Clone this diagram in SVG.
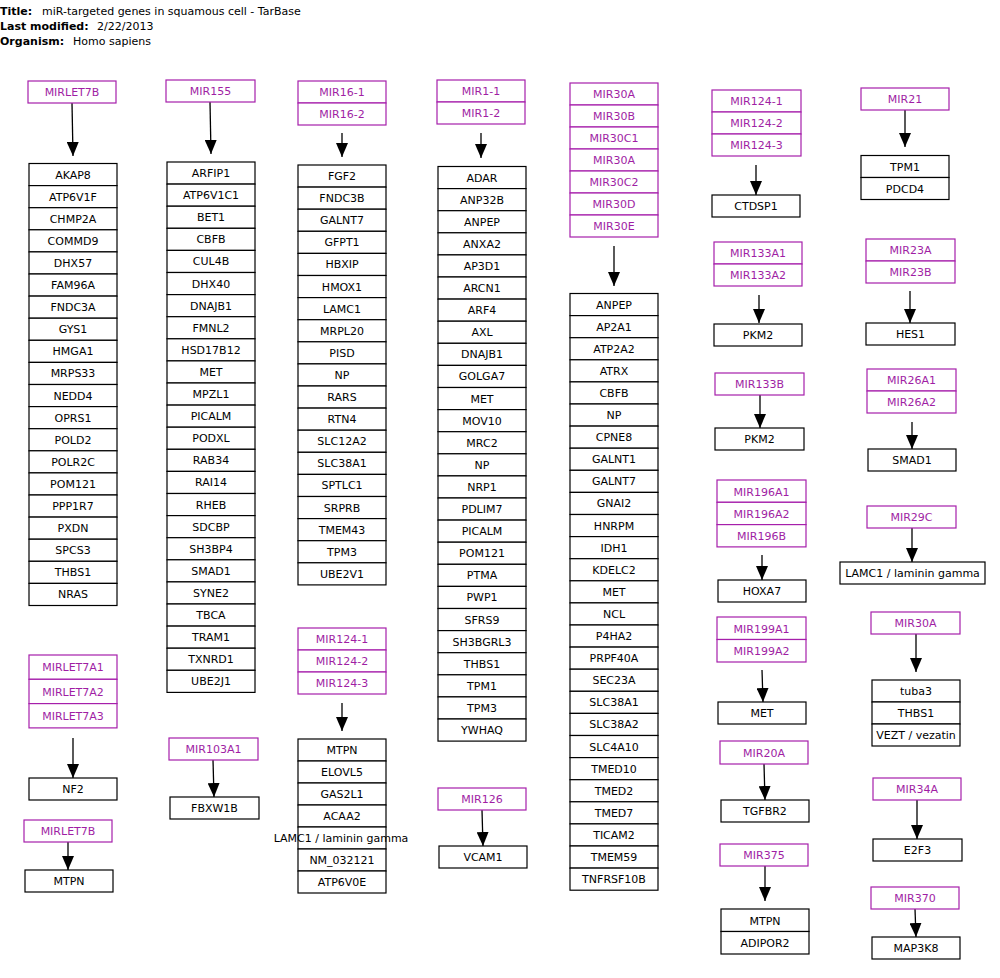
<svg xmlns="http://www.w3.org/2000/svg" width="1000" height="978" viewBox="0 0 1000 978">
<style>
text{font-family:"DejaVu Sans",sans-serif;font-size:11px;}
.g rect{fill:#fff;stroke:#000;stroke-width:1.2;}
.g text{fill:#000;text-anchor:middle;}
.m rect{fill:#fff;stroke:#a61fab;stroke-width:1.2;}
.m text{fill:#a01ea4;text-anchor:middle;}
.c line{stroke:#000;stroke-width:1.3;marker-end:url(#ah);}
.hd{font-weight:bold;}
</style>
<defs>
<marker id="ah" viewBox="0 0 14 12" refX="14" refY="6" markerWidth="14" markerHeight="12" markerUnits="userSpaceOnUse" orient="auto"><path d="M0,0 L14,6 L0,12 z" fill="#000"/></marker>
</defs>
<rect width="1000" height="978" fill="#fff"/>
<g id="header">
<text x="0" y="15" class="hd">Title:</text><text x="42" y="15">miR-targeted genes in squamous cell - TarBase</text>
<text x="0" y="30" class="hd">Last modified:</text><text x="97" y="30">2/22/2013</text>
<text x="0" y="45" class="hd">Organism:</text><text x="73" y="45">Homo sapiens</text>
</g>

<g id="connectors" class="c">
<line x1="72" y1="103" x2="73" y2="156"/>
<line x1="210" y1="102" x2="211" y2="154"/>
<line x1="342" y1="133" x2="342" y2="157"/>
<line x1="481" y1="133" x2="481" y2="158"/>
<line x1="614" y1="246" x2="614" y2="286"/>
<line x1="756" y1="165" x2="756" y2="195"/>
<line x1="905" y1="110" x2="905" y2="147"/>
<line x1="759" y1="295" x2="759" y2="323"/>
<line x1="910" y1="291" x2="910" y2="323"/>
<line x1="760" y1="395" x2="760" y2="428"/>
<line x1="912" y1="422" x2="912" y2="449"/>
<line x1="762" y1="555" x2="762" y2="580"/>
<line x1="912" y1="528" x2="912" y2="562"/>
<line x1="762" y1="670" x2="763" y2="702"/>
<line x1="916" y1="634" x2="916" y2="672"/>
<line x1="764" y1="764" x2="765" y2="800"/>
<line x1="917" y1="800" x2="917" y2="839"/>
<line x1="765" y1="866" x2="765" y2="901"/>
<line x1="915" y1="909" x2="916" y2="937"/>
<line x1="73" y1="738" x2="73" y2="778"/>
<line x1="68" y1="842" x2="68" y2="870"/>
<line x1="213" y1="760" x2="214" y2="797"/>
<line x1="342" y1="703" x2="342" y2="731"/>
<line x1="482" y1="810" x2="483" y2="846"/>
</g>

<!-- Column 1 -->
<g id="mirlet7b" class="m"><rect x="28" y="81" width="88" height="22"/><text x="72" y="96">MIRLET7B</text></g>
<g id="genes1" class="g">
<rect x="29" y="163.5" width="88" height="22.1"/><text x="73" y="178.5">AKAP8</text>
<rect x="29" y="185.6" width="88" height="22.1"/><text x="73" y="200.6">ATP6V1F</text>
<rect x="29" y="207.7" width="88" height="22.1"/><text x="73" y="222.7">CHMP2A</text>
<rect x="29" y="229.8" width="88" height="22.1"/><text x="73" y="244.8">COMMD9</text>
<rect x="29" y="251.9" width="88" height="22.1"/><text x="73" y="266.9">DHX57</text>
<rect x="29" y="274" width="88" height="22.1"/><text x="73" y="289">FAM96A</text>
<rect x="29" y="296.1" width="88" height="22.1"/><text x="73" y="311.1">FNDC3A</text>
<rect x="29" y="318.2" width="88" height="22.1"/><text x="73" y="333.2">GYS1</text>
<rect x="29" y="340.3" width="88" height="22.1"/><text x="73" y="355.3">HMGA1</text>
<rect x="29" y="362.4" width="88" height="22.1"/><text x="73" y="377.4">MRPS33</text>
<rect x="29" y="384.5" width="88" height="22.1"/><text x="73" y="399.5">NEDD4</text>
<rect x="29" y="406.6" width="88" height="22.1"/><text x="73" y="421.6">OPRS1</text>
<rect x="29" y="428.7" width="88" height="22.1"/><text x="73" y="443.7">POLD2</text>
<rect x="29" y="450.8" width="88" height="22.1"/><text x="73" y="465.8">POLR2C</text>
<rect x="29" y="472.9" width="88" height="22.1"/><text x="73" y="487.9">POM121</text>
<rect x="29" y="495" width="88" height="22.1"/><text x="73" y="510">PPP1R7</text>
<rect x="29" y="517.1" width="88" height="22.1"/><text x="73" y="532.1">PXDN</text>
<rect x="29" y="539.2" width="88" height="22.1"/><text x="73" y="554.2">SPCS3</text>
<rect x="29" y="561.3" width="88" height="22.1"/><text x="73" y="576.3">THBS1</text>
<rect x="29" y="583.4" width="88" height="22.1"/><text x="73" y="598.4">NRAS</text>
</g>
<g id="mirlet7a" class="m">
<rect x="29" y="655" width="88" height="24.3"/><text x="73" y="671">MIRLET7A1</text>
<rect x="29" y="679.3" width="88" height="24.3"/><text x="73" y="695.5">MIRLET7A2</text>
<rect x="29" y="703.6" width="88" height="24.3"/><text x="73" y="719.8">MIRLET7A3</text>
</g>
<g id="nf2" class="g"><rect x="29" y="778" width="88" height="22"/><text x="73" y="793">NF2</text></g>
<g id="mirlet7b2" class="m"><rect x="24" y="820" width="88" height="22"/><text x="68" y="835">MIRLET7B</text></g>
<g id="mtpn1" class="g"><rect x="25" y="870" width="88" height="22"/><text x="69" y="885">MTPN</text></g>

<!-- Column 2 -->
<g id="mir155" class="m"><rect x="166" y="80" width="89" height="22"/><text x="210.5" y="95">MIR155</text></g>
<g id="genes2" class="g">
<rect x="167" y="162" width="88" height="22.1"/><text x="211" y="177">ARFIP1</text>
<rect x="167" y="184.1" width="88" height="22.1"/><text x="211" y="199.1">ATP6V1C1</text>
<rect x="167" y="206.2" width="88" height="22.1"/><text x="211" y="221.2">BET1</text>
<rect x="167" y="228.3" width="88" height="22.1"/><text x="211" y="243.3">CBFB</text>
<rect x="167" y="250.4" width="88" height="22.1"/><text x="211" y="265.4">CUL4B</text>
<rect x="167" y="272.5" width="88" height="22.1"/><text x="211" y="287.5">DHX40</text>
<rect x="167" y="294.6" width="88" height="22.1"/><text x="211" y="309.6">DNAJB1</text>
<rect x="167" y="316.7" width="88" height="22.1"/><text x="211" y="331.7">FMNL2</text>
<rect x="167" y="338.8" width="88" height="22.1"/><text x="211" y="353.8">HSD17B12</text>
<rect x="167" y="360.9" width="88" height="22.1"/><text x="211" y="375.9">MET</text>
<rect x="167" y="383" width="88" height="22.1"/><text x="211" y="398">MPZL1</text>
<rect x="167" y="405.1" width="88" height="22.1"/><text x="211" y="420.1">PICALM</text>
<rect x="167" y="427.2" width="88" height="22.1"/><text x="211" y="442.2">PODXL</text>
<rect x="167" y="449.3" width="88" height="22.1"/><text x="211" y="464.3">RAB34</text>
<rect x="167" y="471.4" width="88" height="22.1"/><text x="211" y="486.4">RAI14</text>
<rect x="167" y="493.5" width="88" height="22.1"/><text x="211" y="508.5">RHEB</text>
<rect x="167" y="515.6" width="88" height="22.1"/><text x="211" y="530.6">SDCBP</text>
<rect x="167" y="537.7" width="88" height="22.1"/><text x="211" y="552.7">SH3BP4</text>
<rect x="167" y="559.8" width="88" height="22.1"/><text x="211" y="574.8">SMAD1</text>
<rect x="167" y="581.9" width="88" height="22.1"/><text x="211" y="596.9">SYNE2</text>
<rect x="167" y="604" width="88" height="22.1"/><text x="211" y="619">TBCA</text>
<rect x="167" y="626.1" width="88" height="22.1"/><text x="211" y="641.1">TRAM1</text>
<rect x="167" y="648.2" width="88" height="22.1"/><text x="211" y="663.2">TXNRD1</text>
<rect x="167" y="670.3" width="88" height="22.1"/><text x="211" y="685.3">UBE2J1</text>
</g>
<g id="mir103a1" class="m"><rect x="169" y="738" width="89" height="22"/><text x="213.5" y="753">MIR103A1</text></g>
<g id="fbxw1b" class="g"><rect x="170" y="797" width="89" height="22"/><text x="214.5" y="812">FBXW1B</text></g>

<!-- Column 3 -->
<g id="mir16" class="m">
<rect x="298" y="81" width="88" height="22"/><text x="342" y="96">MIR16-1</text>
<rect x="298" y="103" width="88" height="22"/><text x="342" y="118">MIR16-2</text>
</g>
<g id="genes3" class="g">
<rect x="298" y="165" width="88" height="22.1"/><text x="342" y="180">FGF2</text>
<rect x="298" y="187.1" width="88" height="22.1"/><text x="342" y="202.1">FNDC3B</text>
<rect x="298" y="209.2" width="88" height="22.1"/><text x="342" y="224.2">GALNT7</text>
<rect x="298" y="231.3" width="88" height="22.1"/><text x="342" y="246.3">GFPT1</text>
<rect x="298" y="253.4" width="88" height="22.1"/><text x="342" y="268.4">HBXIP</text>
<rect x="298" y="275.5" width="88" height="22.1"/><text x="342" y="290.5">HMOX1</text>
<rect x="298" y="297.6" width="88" height="22.1"/><text x="342" y="312.6">LAMC1</text>
<rect x="298" y="319.7" width="88" height="22.1"/><text x="342" y="334.7">MRPL20</text>
<rect x="298" y="341.8" width="88" height="22.1"/><text x="342" y="356.8">PISD</text>
<rect x="298" y="363.9" width="88" height="22.1"/><text x="342" y="378.9">NP</text>
<rect x="298" y="386" width="88" height="22.1"/><text x="342" y="401">RARS</text>
<rect x="298" y="408.1" width="88" height="22.1"/><text x="342" y="423.1">RTN4</text>
<rect x="298" y="430.2" width="88" height="22.1"/><text x="342" y="445.2">SLC12A2</text>
<rect x="298" y="452.3" width="88" height="22.1"/><text x="342" y="467.3">SLC38A1</text>
<rect x="298" y="474.4" width="88" height="22.1"/><text x="342" y="489.4">SPTLC1</text>
<rect x="298" y="496.5" width="88" height="22.1"/><text x="342" y="511.5">SRPRB</text>
<rect x="298" y="518.6" width="88" height="22.1"/><text x="342" y="533.6">TMEM43</text>
<rect x="298" y="540.7" width="88" height="22.1"/><text x="342" y="555.7">TPM3</text>
<rect x="298" y="562.8" width="88" height="22.1"/><text x="342" y="577.8">UBE2V1</text>
</g>
<g id="mir124a" class="m">
<rect x="298" y="628" width="88" height="22"/><text x="342" y="643">MIR124-1</text>
<rect x="298" y="650" width="88" height="22"/><text x="342" y="665">MIR124-2</text>
<rect x="298" y="672" width="88" height="22"/><text x="342" y="687">MIR124-3</text>
</g>
<g id="genes3b" class="g">
<rect x="298" y="739" width="88" height="22"/><text x="342" y="754">MTPN</text>
<rect x="298" y="761" width="88" height="22"/><text x="342" y="776">ELOVL5</text>
<rect x="298" y="783" width="88" height="22"/><text x="342" y="798">GAS2L1</text>
<rect x="298" y="805" width="88" height="22"/><text x="342" y="820">ACAA2</text>
<rect x="298" y="827" width="88" height="22"/><text x="341" y="842">LAMC1 / laminin gamma</text>
<rect x="298" y="849" width="88" height="22"/><text x="342" y="864">NM_032121</text>
<rect x="298" y="871" width="88" height="22"/><text x="342" y="886">ATP6V0E</text>
</g>

<!-- Column 4 -->
<g id="mir1" class="m">
<rect x="437" y="80" width="88" height="22"/><text x="481" y="95">MIR1-1</text>
<rect x="437" y="102" width="88" height="22"/><text x="481" y="117">MIR1-2</text>
</g>
<g id="genes4" class="g">
<rect x="438" y="166.5" width="88" height="22.1"/><text x="482" y="181.5">ADAR</text>
<rect x="438" y="188.6" width="88" height="22.1"/><text x="482" y="203.6">ANP32B</text>
<rect x="438" y="210.7" width="88" height="22.1"/><text x="482" y="225.7">ANPEP</text>
<rect x="438" y="232.8" width="88" height="22.1"/><text x="482" y="247.8">ANXA2</text>
<rect x="438" y="254.9" width="88" height="22.1"/><text x="482" y="269.9">AP3D1</text>
<rect x="438" y="277" width="88" height="22.1"/><text x="482" y="292">ARCN1</text>
<rect x="438" y="299.1" width="88" height="22.1"/><text x="482" y="314.1">ARF4</text>
<rect x="438" y="321.2" width="88" height="22.1"/><text x="482" y="336.2">AXL</text>
<rect x="438" y="343.3" width="88" height="22.1"/><text x="482" y="358.3">DNAJB1</text>
<rect x="438" y="365.4" width="88" height="22.1"/><text x="482" y="380.4">GOLGA7</text>
<rect x="438" y="387.5" width="88" height="22.1"/><text x="482" y="402.5">MET</text>
<rect x="438" y="409.6" width="88" height="22.1"/><text x="482" y="424.6">MOV10</text>
<rect x="438" y="431.7" width="88" height="22.1"/><text x="482" y="446.7">MRC2</text>
<rect x="438" y="453.8" width="88" height="22.1"/><text x="482" y="468.8">NP</text>
<rect x="438" y="475.9" width="88" height="22.1"/><text x="482" y="490.9">NRP1</text>
<rect x="438" y="498" width="88" height="22.1"/><text x="482" y="513">PDLIM7</text>
<rect x="438" y="520.1" width="88" height="22.1"/><text x="482" y="535.1">PICALM</text>
<rect x="438" y="542.2" width="88" height="22.1"/><text x="482" y="557.2">POM121</text>
<rect x="438" y="564.3" width="88" height="22.1"/><text x="482" y="579.3">PTMA</text>
<rect x="438" y="586.4" width="88" height="22.1"/><text x="482" y="601.4">PWP1</text>
<rect x="438" y="608.5" width="88" height="22.1"/><text x="482" y="623.5">SFRS9</text>
<rect x="438" y="630.6" width="88" height="22.1"/><text x="482" y="645.6">SH3BGRL3</text>
<rect x="438" y="652.7" width="88" height="22.1"/><text x="482" y="667.7">THBS1</text>
<rect x="438" y="674.8" width="88" height="22.1"/><text x="482" y="689.8">TPM1</text>
<rect x="438" y="696.9" width="88" height="22.1"/><text x="482" y="711.9">TPM3</text>
<rect x="438" y="719" width="88" height="22.1"/><text x="482" y="734">YWHAQ</text>
</g>
<g id="mir126" class="m"><rect x="438" y="788" width="88" height="22"/><text x="482" y="803">MIR126</text></g>
<g id="vcam1" class="g"><rect x="439" y="846" width="88" height="22"/><text x="483" y="861">VCAM1</text></g>

<!-- Column 5 -->
<g id="mir30" class="m">
<rect x="570" y="83" width="88" height="22"/><text x="614" y="98">MIR30A</text>
<rect x="570" y="105" width="88" height="22"/><text x="614" y="120">MIR30B</text>
<rect x="570" y="127" width="88" height="22"/><text x="614" y="142">MIR30C1</text>
<rect x="570" y="149" width="88" height="22"/><text x="614" y="164">MIR30A</text>
<rect x="570" y="171" width="88" height="22"/><text x="614" y="186">MIR30C2</text>
<rect x="570" y="193" width="88" height="22"/><text x="614" y="208">MIR30D</text>
<rect x="570" y="215" width="88" height="22"/><text x="614" y="230">MIR30E</text>
</g>
<g id="genes5" class="g">
<rect x="570" y="293.5" width="88" height="22.1"/><text x="614" y="308.5">ANPEP</text>
<rect x="570" y="315.6" width="88" height="22.1"/><text x="614" y="330.6">AP2A1</text>
<rect x="570" y="337.7" width="88" height="22.1"/><text x="614" y="352.7">ATP2A2</text>
<rect x="570" y="359.8" width="88" height="22.1"/><text x="614" y="374.8">ATRX</text>
<rect x="570" y="381.9" width="88" height="22.1"/><text x="614" y="396.9">CBFB</text>
<rect x="570" y="404" width="88" height="22.1"/><text x="614" y="419">NP</text>
<rect x="570" y="426.1" width="88" height="22.1"/><text x="614" y="441.1">CPNE8</text>
<rect x="570" y="448.2" width="88" height="22.1"/><text x="614" y="463.2">GALNT1</text>
<rect x="570" y="470.3" width="88" height="22.1"/><text x="614" y="485.3">GALNT7</text>
<rect x="570" y="492.4" width="88" height="22.1"/><text x="614" y="507.4">GNAI2</text>
<rect x="570" y="514.5" width="88" height="22.1"/><text x="614" y="529.5">HNRPM</text>
<rect x="570" y="536.6" width="88" height="22.1"/><text x="614" y="551.6">IDH1</text>
<rect x="570" y="558.7" width="88" height="22.1"/><text x="614" y="573.7">KDELC2</text>
<rect x="570" y="580.8" width="88" height="22.1"/><text x="614" y="595.8">MET</text>
<rect x="570" y="602.9" width="88" height="22.1"/><text x="614" y="617.9">NCL</text>
<rect x="570" y="625" width="88" height="22.1"/><text x="614" y="640">P4HA2</text>
<rect x="570" y="647.1" width="88" height="22.1"/><text x="614" y="662.1">PRPF40A</text>
<rect x="570" y="669.2" width="88" height="22.1"/><text x="614" y="684.2">SEC23A</text>
<rect x="570" y="691.3" width="88" height="22.1"/><text x="614" y="706.3">SLC38A1</text>
<rect x="570" y="713.4" width="88" height="22.1"/><text x="614" y="728.4">SLC38A2</text>
<rect x="570" y="735.5" width="88" height="22.1"/><text x="614" y="750.5">SLC4A10</text>
<rect x="570" y="757.6" width="88" height="22.1"/><text x="614" y="772.6">TMED10</text>
<rect x="570" y="779.7" width="88" height="22.1"/><text x="614" y="794.7">TMED2</text>
<rect x="570" y="801.8" width="88" height="22.1"/><text x="614" y="816.8">TMED7</text>
<rect x="570" y="823.9" width="88" height="22.1"/><text x="614" y="838.9">TICAM2</text>
<rect x="570" y="846" width="88" height="22.1"/><text x="614" y="861">TMEM59</text>
<rect x="570" y="868.1" width="88" height="22.1"/><text x="614" y="883.1">TNFRSF10B</text>
</g>

<!-- Column 6 -->
<g id="mir124b" class="m">
<rect x="712" y="90" width="89" height="22"/><text x="756.5" y="105">MIR124-1</text>
<rect x="712" y="112" width="89" height="22"/><text x="756.5" y="127">MIR124-2</text>
<rect x="712" y="134" width="89" height="22"/><text x="756.5" y="149">MIR124-3</text>
</g>
<g id="ctdsp1" class="g"><rect x="712" y="195" width="88" height="22"/><text x="756" y="210">CTDSP1</text></g>
<g id="mir133a" class="m">
<rect x="714" y="242" width="88" height="22"/><text x="758" y="257">MIR133A1</text>
<rect x="714" y="264" width="88" height="22"/><text x="758" y="279">MIR133A2</text>
</g>
<g id="pkm2a" class="g"><rect x="714" y="324" width="88" height="22"/><text x="758" y="339">PKM2</text></g>
<g id="mir133b" class="m"><rect x="715" y="373" width="89" height="22"/><text x="759.5" y="388">MIR133B</text></g>
<g id="pkm2b" class="g"><rect x="715" y="428" width="89" height="22"/><text x="759.5" y="443">PKM2</text></g>
<g id="mir196" class="m">
<rect x="717" y="480" width="89" height="22.3"/><text x="761.5" y="495.5">MIR196A1</text>
<rect x="717" y="502.3" width="89" height="22.3"/><text x="761.5" y="517.8">MIR196A2</text>
<rect x="717" y="524.6" width="89" height="22.3"/><text x="761.5" y="540.1">MIR196B</text>
</g>
<g id="hoxa7" class="g"><rect x="718" y="580" width="88" height="22"/><text x="762" y="595">HOXA7</text></g>
<g id="mir199" class="m">
<rect x="717" y="617" width="89" height="22.5"/><text x="761.5" y="632.5">MIR199A1</text>
<rect x="717" y="639.5" width="89" height="22.5"/><text x="761.5" y="655">MIR199A2</text>
</g>
<g id="met" class="g"><rect x="718" y="702" width="88" height="22"/><text x="762" y="717">MET</text></g>
<g id="mir20a" class="m"><rect x="720" y="741" width="88" height="23"/><text x="764" y="756.5">MIR20A</text></g>
<g id="tgfbr2" class="g"><rect x="721" y="800" width="88" height="22"/><text x="765" y="815">TGFBR2</text></g>
<g id="mir375" class="m"><rect x="720" y="844" width="88" height="22"/><text x="764" y="859">MIR375</text></g>
<g id="mtpn2" class="g">
<rect x="721" y="909" width="88" height="22.5"/><text x="765" y="924.5">MTPN</text>
<rect x="721" y="931.5" width="88" height="22.5"/><text x="765" y="947">ADIPOR2</text>
</g>

<!-- Column 7 -->
<g id="mir21" class="m"><rect x="861" y="88" width="88" height="22"/><text x="905" y="103">MIR21</text></g>
<g id="tpm1" class="g">
<rect x="861" y="155.5" width="88" height="22"/><text x="905" y="170.5">TPM1</text>
<rect x="861" y="177.5" width="88" height="22"/><text x="905" y="192.5">PDCD4</text>
</g>
<g id="mir23" class="m">
<rect x="866" y="239" width="89" height="22"/><text x="910.5" y="254">MIR23A</text>
<rect x="866" y="261" width="89" height="22"/><text x="910.5" y="276">MIR23B</text>
</g>
<g id="hes1" class="g"><rect x="866" y="323" width="89" height="22"/><text x="910.5" y="338">HES1</text></g>
<g id="mir26" class="m">
<rect x="867" y="369" width="89" height="22"/><text x="911.5" y="384">MIR26A1</text>
<rect x="867" y="391" width="89" height="22"/><text x="911.5" y="406">MIR26A2</text>
</g>
<g id="smad1" class="g"><rect x="868" y="449" width="88" height="22"/><text x="912" y="464">SMAD1</text></g>
<g id="mir29c" class="m"><rect x="867" y="506" width="89" height="22"/><text x="911.5" y="521">MIR29C</text></g>
<g id="lamc1" class="g"><rect x="840" y="562" width="145" height="22"/><text x="912.5" y="577">LAMC1 / laminin gamma</text></g>
<g id="mir30a" class="m"><rect x="871" y="612" width="89" height="22"/><text x="915.5" y="627">MIR30A</text></g>
<g id="tuba3" class="g">
<rect x="872" y="680" width="88" height="22"/><text x="916" y="695">tuba3</text>
<rect x="872" y="702" width="88" height="22"/><text x="916" y="717">THBS1</text>
<rect x="872" y="724" width="88" height="22"/><text x="916" y="739">VEZT / vezatin</text>
</g>
<g id="mir34a" class="m"><rect x="873" y="778" width="88" height="22"/><text x="917" y="793">MIR34A</text></g>
<g id="e2f3" class="g"><rect x="873" y="839" width="89" height="22"/><text x="917.5" y="854">E2F3</text></g>
<g id="mir370" class="m"><rect x="871" y="887" width="88" height="22"/><text x="915" y="902">MIR370</text></g>
<g id="map3k8" class="g"><rect x="872" y="937" width="88" height="22"/><text x="916" y="952">MAP3K8</text></g>
</svg>
